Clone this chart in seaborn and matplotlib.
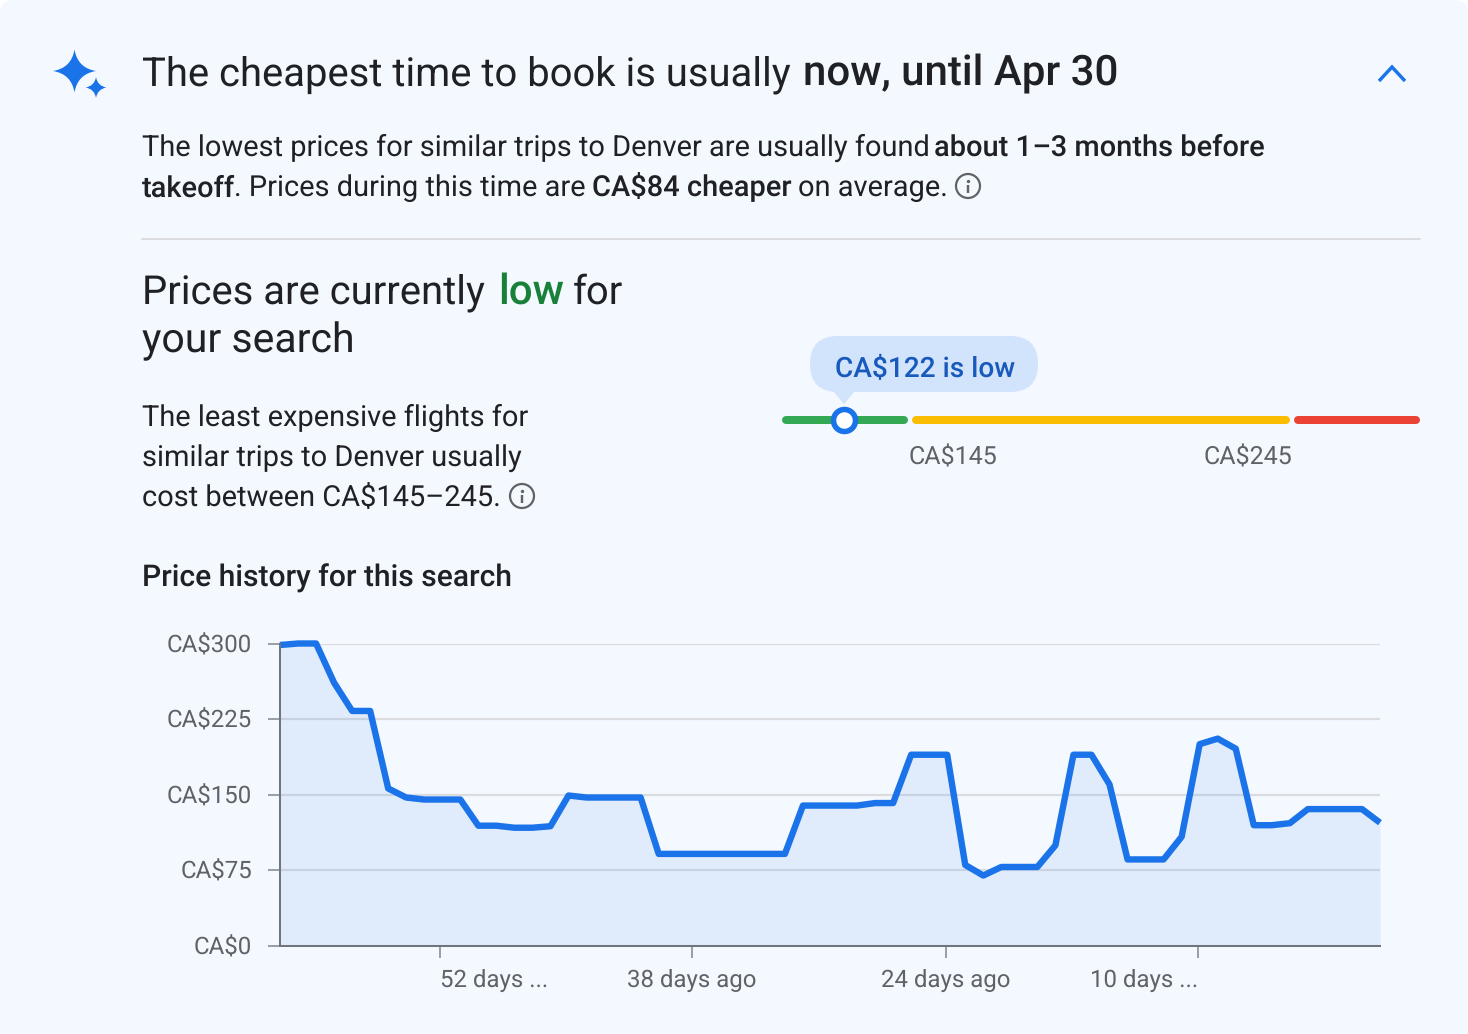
import matplotlib
matplotlib.use("Agg")
import matplotlib.pyplot as plt
from matplotlib.patches import FancyBboxPatch, Polygon, PathPatch, Circle
from matplotlib.path import Path
import numpy as np
import pandas as pd
import seaborn as sns

days_ago = [61 - i for i in range(62)]
prices = [298.5, 300, 300, 261, 233, 233, 156, 147, 145, 145, 145, 119, 119, 117, 117, 118.5,
          149, 147, 147, 147, 147, 91, 91, 91, 91, 91, 91, 91, 91, 139, 139, 139, 139, 141.5, 141.5,
          189.5, 189.5, 189.5, 80, 69.5, 78, 78, 78, 99.5, 189.5, 189.5, 160, 85.5, 85.5, 85.5,
          108, 200, 205.5, 195.5, 119.5, 119.5, 121.5, 135.5, 135.5, 135.5, 135.5, 122]
y_ticks = [0, 75, 150, 225, 300]
y_labels = ["CA$0", "CA$75", "CA$150", "CA$225", "CA$300"]
x_ticks = [52.13, 38.15, 24.06, 10.09]
x_labels = ["52 days ...", "38 days ago", "24 days ago", "10 days ..."]
x_aligns = ["left", "center", "center", "right"]

CARD = "#f4f8ff"
INK = "#202124"
GREY = "#5f6368"
BLUE = "#1a73e8"
PX = 0.72  # points per pixel at dpi 100

sns.set_theme(style="white")
plt.rcParams["font.family"] = ["Roboto", "DejaVu Sans"]
plt.rcParams["text.hinting"] = "no_hinting"
plt.rcParams["text.hinting_factor"] = 1

W, H = 1468, 1034
fig = plt.figure(figsize=(W / 100, H / 100), dpi=100, facecolor="white")
bg = fig.add_axes([0, 0, 1, 1])
bg.set_xlim(0, W)
bg.set_ylim(H, 0)
bg.axis("off")
bg.add_patch(FancyBboxPatch((0, 0), W, H + 40, boxstyle="round,pad=0,rounding_size=14",
                            fc=CARD, ec="none"))


def runs(y, parts, family="Roboto"):
    """Place text runs (x, text, weight, color, size) on one baseline."""
    for x, text, weight, color, size in parts:
        bg.text(x, y, text, fontsize=size * PX, fontweight=weight, color=color,
                family=family, va="baseline", ha="left")


def star(cx, cy, rx, ry, color):
    k = 0.14
    verts = [(cx, cy - ry), (cx + rx * k, cy - ry * k), (cx + rx, cy),
             (cx + rx * k, cy + ry * k), (cx, cy + ry), (cx - rx * k, cy + ry * k),
             (cx - rx, cy), (cx - rx * k, cy - ry * k), (cx, cy - ry)]
    codes = [Path.MOVETO] + [Path.CURVE3] * 8
    bg.add_patch(PathPatch(Path(verts, codes), fc=color, ec="none"))


def info(cx, cy):
    bg.add_patch(Circle((cx, cy), 12, fc="none", ec=GREY, lw=2.2 * PX))
    bg.plot([cx, cx], [cy - 1.5, cy + 6.5], color=GREY, lw=2.4 * PX, solid_capstyle="butt")
    bg.plot([cx], [cy - 5.5], "o", color=GREY, ms=3.4 * PX, mew=0)


# Header
star(74.5, 71, 21.5, 21.5, BLUE)
star(96, 87.5, 10.5, 10.5, BLUE)
runs(85.6, [(142, "The cheapest time to book is usually", "normal", INK, 40.1),
            (803, "now, until Apr 30", "medium", INK, 41.7)])
bg.plot([1379, 1392, 1405], [81, 67, 81], color=BLUE, lw=3.4 * PX, solid_capstyle="butt",
        solid_joinstyle="miter")

runs(156, [(142, "The lowest prices for similar trips to Denver are usually found", "normal", INK, 28.7),
           (934.5, "about 1–3 months before", "medium", INK, 28.6)])
runs(196.4, [(142, "takeoff", "medium", INK, 28.8),
             (234, ". Prices during this time are", "normal", INK, 28.75),
             (592.5, "CA$84 cheaper", "medium", INK, 28.6),
             (797.5, "on average.", "normal", INK, 28.75)])
info(968, 186)
bg.plot([142, 1420], [239, 239], color="#dadce0", lw=2 * PX)

# Price level block
runs(303.6, [(142, "Prices are currently", "normal", INK, 40.2),
             (498.5, "low", "medium", "#188038", 41.5),
             (573, "for", "normal", INK, 40.2)])
runs(352, [(142, "your search", "normal", INK, 40.5)])
runs(426.4, [(142, "The least expensive flights for", "normal", INK, 28.7)])
runs(466, [(142, "similar trips to Denver usually", "normal", INK, 28.7)])
runs(506.4, [(142, "cost between CA$145–245.", "normal", INK, 28.55)])
info(522, 496)
runs(586.4, [(142, "Price history for this search", "medium", INK, 30.3)])

# Range bar
for x0, x1, c in [(786, 904, "#34a853"), (916, 1286, "#fbbc04"), (1298, 1416, "#ea4335")]:
    bg.plot([x0, x1], [420, 420], color=c, lw=8 * PX, solid_capstyle="round")
bg.add_patch(FancyBboxPatch((810, 336), 228, 56, boxstyle="round,pad=0,rounding_size=28",
                            fc="#d2e3fc", ec="none"))
bg.add_patch(Polygon([(833, 391), (855, 391), (844, 404)], fc="#d2e3fc", ec="none"))
bg.text(925, 376.6, "CA$122 is low", fontsize=28.4 * PX, color="#185abc", fontweight="medium",
        ha="center", va="baseline")
bg.plot([844], [420], "o", ms=22 * PX, mfc="white", mec=BLUE, mew=5.5 * PX)
bg.text(953, 464.4, "CA$145", fontsize=25 * PX, color=GREY, ha="center", va="baseline")
bg.text(1248, 464.4, "CA$245", fontsize=25 * PX, color=GREY, ha="center", va="baseline")

# Price history chart
L, R, T, B = 280, 1380, 643.5, 945.5
ax = fig.add_axes([L / W, 1 - B / H, (R - L) / W, (B - T) / H])
ax.patch.set_alpha(0)
df = pd.DataFrame({"days_ago": days_ago, "price": prices})
ax.fill_between(df["days_ago"], df["price"], 0, color=BLUE, alpha=0.09, lw=0, zorder=2)
sns.lineplot(data=df, x="days_ago", y="price", ax=ax, color=BLUE, linewidth=6.4 * PX,
             zorder=3, clip_on=True, solid_capstyle="butt")
for ln in ax.get_lines():
    ln.set_clip_box(None)
    ln.set_clip_path(None)
ax.set_xlim(61, 0)
ax.set_ylim(0, 300)
ax.set_xlabel("")
ax.set_ylabel("")
ax.set_yticks(y_ticks, y_labels)
ax.set_xticks(x_ticks, x_labels)
for lab, ha in zip(ax.get_xticklabels(), x_aligns):
    lab.set_ha(ha)
ax.tick_params(axis="y", length=12 * PX, width=2 * PX, color="#9aa0a6", labelsize=24.2 * PX,
               labelcolor=GREY, pad=16 * PX, left=True)
ax.tick_params(axis="x", length=12 * PX, width=2 * PX, color="#9aa0a6", labelsize=24 * PX,
               labelcolor=GREY, pad=11.5 * PX, bottom=True)
ax.grid(axis="y", color="#dadce0", lw=2.2 * PX, zorder=1)
ax.set_axisbelow(True)
for s in ("top", "right"):
    ax.spines[s].set_visible(False)
for s in ("left", "bottom"):
    ax.spines[s].set_color("#70757a")
    ax.spines[s].set_linewidth(2 * PX)
    ax.spines[s].set_zorder(4)

fig.savefig("out.png", dpi=100, facecolor="white")
